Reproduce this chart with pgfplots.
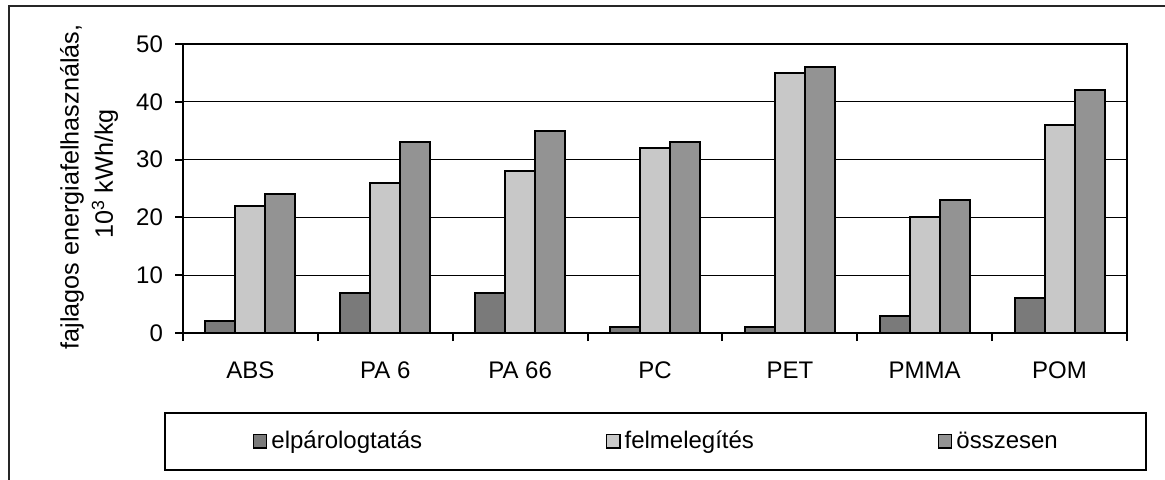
\documentclass[border=0pt]{standalone}
\usepackage{pgfplots}
\pgfplotsset{compat=1.18}
\usepackage{fontspec}
\setmainfont{Liberation Sans}
\definecolor{cA}{HTML}{7A7A7A}
\definecolor{cB}{HTML}{C8C8C8}
\definecolor{cC}{HTML}{939393}
\newcommand{\fs}{\fontsize{12}{14}\selectfont}
\newcommand{\fl}{\fontsize{12.6}{14}\selectfont}
\begin{document}
\begin{tikzpicture}
\path[use as bounding box] (0pt,0pt) rectangle (582.5pt,239.5pt);
\draw[line width=1pt, black!85] (4.5pt,-5pt) -- (4.5pt,236.5pt) -- (590pt,236.5pt);
\node[rotate=90, font=\fl, anchor=center] at (36pt,146pt) {fajlagos energiafelhasználás,};
\node[rotate=90, font=\fl, anchor=center] at (52.5pt,152.5pt) {10\textsuperscript{3} kWh/kg};
\begin{axis}[
  at={(91.5pt,73pt)}, anchor=south west,
  scale only axis, width=472pt, height=144.5pt,
  ybar=0pt, bar width=15pt,
  xmin=-0.5, xmax=6.5, ymin=0, ymax=50,
  xtick={-0.5,0.5,...,6.5},
  x tick label as interval,
  xticklabels={ABS,PA 6,PA 66,PC,PET,PMMA,POM},
  ytick={0,10,...,50},
  ymajorgrids, grid style={black, line width=0.5pt},
  tick pos=left, tick align=outside, major tick length=4pt,
  tick style={black, line width=1pt},
  axis line style={line width=1pt},
  tick label style={font=\fs},
  x tick label style={yshift=-7pt},
  y tick label style={xshift=-2.5pt},
  /pgf/number format/assume math mode=true,
  legend columns=3,
  legend style={at={(-0.0201,-0.3754)}, anchor=west, draw=black, line width=1pt,
    font=\fs, inner xsep=44pt, inner ysep=9pt,
    nodes={inner sep=0pt},
    /tikz/every odd column/.append style={column sep=2pt},
    /tikz/every even column/.append style={column sep=92pt}},
  legend image code/.code={\draw[#1, line width=0.6pt] (0pt,-3.3pt) rectangle (6.6pt,3.3pt);},
]
\addplot[fill=cA, draw=black, line width=1pt] coordinates {(0,2) (1,7) (2,7) (3,1) (4,1) (5,3) (6,6)};
\addplot[fill=cB, draw=black, line width=1pt] coordinates {(0,22) (1,26) (2,28) (3,32) (4,45) (5,20) (6,36)};
\addplot[fill=cC, draw=black, line width=1pt] coordinates {(0,24) (1,33) (2,35) (3,33) (4,46) (5,23) (6,42)};
\legend{elpárologtatás,felmelegítés,összesen}
\end{axis}
\end{tikzpicture}
\end{document}
